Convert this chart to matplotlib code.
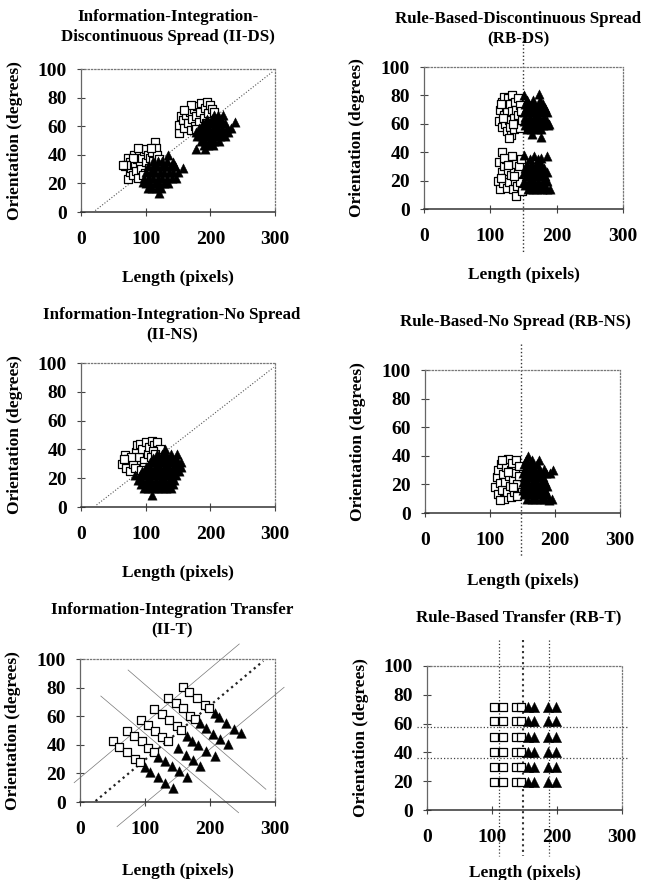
"""Category structures: six scatter panels (II-DS, RB-DS, II-NS, RB-NS, II-T, RB-T)."""
import matplotlib
matplotlib.use("Agg")
import matplotlib.pyplot as plt

plt.rcParams["font.family"] = ["Liberation Serif", "DejaVu Serif"]
plt.rcParams["font.weight"] = "bold"

# ---- II-DS ----
iids_squares = [
    (68, 32), (72, 23), (72, 38), (75, 35), (75, 28), (78, 31), (80, 26), (82, 40), (84, 33),
    (85, 29), (86, 37), (88, 24), (90, 41), (92, 34), (93, 30), (95, 38), (97, 43), (99, 27),
    (100, 44), (101, 35), (103, 40), (105, 31), (107, 38), (110, 42), (112, 36), (115, 49),
    (116, 45), (118, 40), (120, 37), (108, 45), (96, 26), (80, 38), (70, 33), (88, 45), (65, 33),
    (152, 55), (152, 61), (155, 67), (158, 64), (160, 59), (163, 68), (165, 62), (168, 70),
    (170, 57), (172, 65), (175, 72), (176, 60), (178, 67), (180, 74), (182, 63), (184, 70),
    (186, 76), (188, 58), (190, 66), (192, 73), (195, 77), (197, 69), (200, 75), (203, 72),
    (206, 70), (185, 56), (178, 58), (170, 75), (160, 71), (193, 62),
]
iids_triangles = [
    (103, 17), (110, 17), (117, 17), (124, 17),
    (100, 20), (107, 20), (114, 20), (121, 20), (128, 20), (135, 20),
    (98, 24), (105, 24), (112, 24), (119, 24), (126, 24), (133, 24), (140, 24),
    (101, 28), (108, 28), (115, 28), (122, 28), (129, 28), (136, 28), (143, 28), (150, 28),
    (104, 32), (111, 32), (118, 32), (125, 32), (132, 32), (139, 32), (146, 32), (158, 31),
    (112, 36), (119, 36), (126, 36), (133, 36), (135, 40),
    (120, 13), (96, 21), (147, 24), (142, 35),
    (190, 47), (197, 47), (204, 47),
    (185, 50), (192, 50), (199, 50), (206, 50), (213, 50),
    (180, 53), (187, 53), (194, 53), (201, 53), (208, 53), (215, 53), (222, 53),
    (178, 56), (185, 56), (192, 56), (199, 56), (206, 56), (213, 56), (220, 56), (227, 56),
    (183, 59), (190, 59), (197, 59), (204, 59), (211, 59), (218, 59), (225, 59), (232, 59),
    (188, 62), (195, 62), (202, 62), (209, 62), (216, 62), (223, 62),
    (195, 65), (202, 65), (209, 65), (216, 65),
    (205, 68), (212, 68), (220, 68),
    (178, 44), (238, 63), (192, 44),
]
iids_bound_x = [22, 296]
iids_bound_y = [1, 98]

# ---- RB-DS ----
rbds_squares = [
    (113, 62), (115, 70), (117, 58), (118, 75), (120, 66), (120, 79), (122, 60), (123, 72),
    (125, 55), (125, 68), (126, 78), (128, 63), (129, 74), (130, 58), (131, 52), (132, 69),
    (133, 80), (135, 64), (136, 56), (137, 75), (138, 70), (140, 60), (141, 78), (142, 66),
    (144, 73), (145, 57), (146, 69), (147, 63), (116, 74), (128, 50), (119, 64), (134, 60),
    (112, 20), (113, 33), (115, 14), (117, 26), (118, 40), (119, 18), (121, 30), (122, 22),
    (124, 35), (125, 15), (127, 27), (128, 19), (130, 32), (131, 24), (133, 37), (134, 14),
    (135, 28), (137, 20), (138, 9), (139, 32), (140, 16), (142, 25), (143, 30), (145, 19),
    (146, 35), (147, 13), (120, 36), (126, 31), (136, 23), (116, 22),
]
rbds_triangles = [
    (155, 56), (162, 56), (169, 56), (176, 56),
    (152, 59), (159, 59), (166, 59), (173, 59), (180, 59), (187, 59),
    (151, 62), (158, 62), (165, 62), (172, 62), (179, 62), (186, 62),
    (153, 65), (160, 65), (167, 65), (174, 65), (181, 65),
    (151, 68), (158, 68), (165, 68), (172, 68), (179, 68), (186, 68),
    (154, 71), (161, 71), (168, 71), (175, 71), (182, 71),
    (152, 74), (159, 74), (166, 74), (173, 74), (180, 74),
    (155, 77), (164, 77), (175, 77),
    (150, 80), (173, 81), (176, 51), (188, 60), (163, 53),
    (157, 14), (164, 14), (171, 14), (178, 14), (185, 14),
    (153, 17), (160, 17), (167, 17), (174, 17), (181, 17),
    (151, 20), (158, 20), (165, 20), (172, 20), (179, 20), (186, 20),
    (154, 23), (161, 23), (168, 23), (175, 23), (182, 23),
    (151, 26), (158, 26), (165, 26), (172, 26), (179, 26), (186, 26),
    (153, 29), (160, 29), (167, 29), (174, 29), (181, 29),
    (156, 32), (163, 32), (170, 32), (177, 32),
    (160, 35), (172, 35),
    (150, 38), (186, 37), (190, 14), (166, 37), (176, 36),
]
rbds_bound_x = [149, 149]
rbds_bound_y = [124, -31]

# ---- II-NS ----
iins_squares = [
    (63, 30), (68, 36), (70, 27), (73, 33), (75, 25), (80, 30), (85, 38), (87, 43), (90, 35),
    (92, 44), (95, 40), (97, 32), (100, 45), (103, 37), (105, 42), (110, 46), (113, 43),
    (118, 45), (122, 40), (112, 39), (98, 28), (83, 27), (78, 35), (108, 35), (115, 37),
    (93, 26), (66, 33),
]
iins_triangles = [
    (97, 13), (104, 13), (111, 13), (118, 13), (125, 13), (132, 13), (139, 13),
    (93, 16), (100, 16), (107, 16), (114, 16), (121, 16), (128, 16), (135, 16), (142, 16),
    (88, 19), (95, 19), (102, 19), (109, 19), (116, 19), (123, 19), (130, 19), (137, 19), (144, 19),
    (84, 22), (91, 22), (98, 22), (105, 22), (112, 22), (119, 22), (126, 22), (133, 22),
    (140, 22), (147, 22),
    (95, 25), (102, 25), (109, 25), (116, 25), (123, 25), (130, 25), (137, 25), (144, 25), (151, 25),
    (100, 28), (107, 28), (114, 28), (121, 28), (128, 28), (135, 28), (142, 28), (149, 28), (155, 28),
    (106, 31), (113, 31), (120, 31), (127, 31), (134, 31), (141, 31), (148, 31), (154, 31),
    (112, 34), (119, 34), (126, 34), (133, 34), (140, 34), (147, 34),
    (118, 37), (125, 37), (132, 37), (139, 37),
    (130, 40), (110, 8), (148, 37),
]
iins_bound_x = [24, 298]
iins_bound_y = [1.4, 97]

# ---- RB-NS ----
rbns_squares = [
    (108, 18), (110, 25), (112, 30), (113, 13), (115, 21), (117, 34), (118, 16), (120, 27),
    (122, 10), (123, 22), (125, 32), (126, 15), (128, 38), (129, 26), (130, 19), (132, 11),
    (133, 30), (134, 35), (136, 23), (137, 15), (139, 28), (140, 37), (141, 20), (142, 12),
    (144, 26), (145, 33), (119, 37), (116, 9), (127, 29), (135, 18),
]
rbns_triangles = [
    (157, 10), (164, 10), (171, 10), (178, 10), (185, 10), (195, 10),
    (152, 13), (159, 13), (166, 13), (173, 13), (180, 13), (187, 13),
    (150, 16), (157, 16), (164, 16), (171, 16), (178, 16), (185, 16),
    (153, 19), (160, 19), (167, 19), (174, 19), (181, 19), (188, 19),
    (150, 22), (157, 22), (164, 22), (171, 22), (178, 22), (185, 22),
    (153, 25), (160, 25), (167, 25), (174, 25), (181, 25),
    (150, 28), (157, 28), (164, 28), (171, 28), (178, 28), (186, 28), (193, 28),
    (154, 31), (161, 31), (168, 31), (175, 31), (183, 31),
    (152, 34), (159, 34), (166, 34), (172, 34),
    (156, 37), (165, 37), (175, 37),
    (158, 40), (190, 9), (197, 30),
]
rbns_bound_x = [147, 147]
rbns_bound_y = [118, -31]

# ---- II-T ----
iit_squares = [
    (158, 80.6), (167, 76.7), (180, 73), (192, 68), (198, 65.5),
    (136, 73), (148, 69), (158, 65.5), (169, 60), (177, 58),
    (114, 65), (126, 61.5), (137, 57.3), (149, 53), (156, 50.4),
    (94, 57.3), (105, 54), (115, 50), (126, 45.7), (136, 42.6),
    (72, 50), (83, 46), (95, 42.6), (105, 37.5), (114, 35),
    (51, 42.6), (60, 38.7), (73, 34.7), (85, 30), (92, 27.7),
]
iit_triangles = [
    (208, 62), (214, 59.2), (225, 55), (237, 51), (248, 48),
    (184, 55), (194, 51.5), (205, 47.6), (215, 44.1), (227, 40.3),
    (164, 46.2), (173, 42.9), (182, 39.9), (194, 35.9), (207, 32.2),
    (150, 37.5), (163, 32.9), (174, 29.4), (185, 25.4),
    (120.5, 31.7), (131, 28.9), (141, 25.2), (152, 21.7), (164, 17.2),
    (100, 24.7), (108, 21.2), (119.5, 17.7), (131, 13.5), (142.6, 10),
]
# boundary lines: (x0, y0, x1, y1)
iit_thin_lines = [
    (-9, 13.5, 245, 110.5),
    (57, -17.2, 314, 80.2),
    (32, 74.1, 244, -7.5),
    (74, 92.3, 286, 8.9),
]
iit_main_line = (24, 0.7, 282, 98.6)

# ---- RB-T ----
rbt_rows = [71.5, 61.5, 51, 40.5, 30, 19.5]
rbt_square_cols = [103, 117, 137, 145]
rbt_triangle_cols = [156, 165, 186, 199]
rbt_vlines = [110, 148, 187]
rbt_hlines = [57.4, 35.9]

W, H = 654, 880


def px_box(left, top, right, bottom):
    return [left / W, 1 - bottom / H, (right - left) / W, (bottom - top) / H]


def style_axes(ax, xlab_off, ylab_off):
    ax.set_xlim(0, 300)
    ax.set_ylim(0, 100)
    ax.set_xticks([0, 100, 200, 300])
    ax.set_yticks([0, 20, 40, 60, 80, 100])
    ax.tick_params(direction="inout", length=6, width=0.8, color="#444",
                   labelsize=14, pad=7)
    ax.tick_params(axis="x", pad=11)
    for lab in ax.get_xticklabels() + ax.get_yticklabels():
        lab.set_fontweight("bold")
    for side in ("top", "right"):
        ax.spines[side].set_linestyle(":")
        ax.spines[side].set_color("#777")
        ax.spines[side].set_linewidth(0.9)
    ax.spines["left"].set_color("#666")
    ax.spines["left"].set_linewidth(0.9)
    ax.spines["bottom"].set_color("#333")
    ax.spines["bottom"].set_linewidth(1.1)
    ax.set_xlabel("Length (pixels)", fontsize=12.5, fontweight="bold")
    ax.set_ylabel("Orientation (degrees)", fontsize=12.5, fontweight="bold")
    ax.xaxis.set_label_coords(0.5, xlab_off)
    ax.yaxis.set_label_coords(ylab_off, 0.5)


def scatter(ax, squares, triangles, sq_size=28, tri_size=45):
    sx = [p[0] for p in squares]
    sy = [p[1] for p in squares]
    tx = [p[0] for p in triangles]
    ty = [p[1] for p in triangles]
    ax.scatter(sx, sy, marker="s", s=sq_size, facecolor="white", edgecolor="black",
               linewidth=0.9, zorder=3, clip_on=False)
    ax.scatter(tx, ty, marker="^", s=tri_size, facecolor="black", edgecolor="black",
               linewidth=0.3, zorder=4, clip_on=False)


def main():
    fig = plt.figure(figsize=(W / 100, H / 100), dpi=100)
    fig.patch.set_facecolor("white")

    title_kw = dict(fontsize=12.2, fontweight="bold", ha="center", va="center",
                    linespacing=1.4)

    # Panel 1: II-DS
    ax1 = fig.add_axes(px_box(81, 69, 275, 212))
    ax1.plot(iids_bound_x, iids_bound_y, ls=":", lw=0.8, color="#555", zorder=2)
    scatter(ax1, iids_squares, iids_triangles)
    style_axes(ax1, -0.405, -0.30)
    fig.text(168 / W, 1 - 27 / H,
             "Information-Integration-\nDiscontinuous Spread (II-DS)", **title_kw)

    # Panel 2: RB-DS
    ax2 = fig.add_axes(px_box(424, 67, 623, 209))
    ax2.plot(rbds_bound_x, rbds_bound_y, ls=":", lw=1.0, color="#333",
             zorder=2, clip_on=False)
    scatter(ax2, rbds_squares, rbds_triangles)
    style_axes(ax2, -0.41, -0.295)
    fig.text(518 / W, 1 - 29 / H,
             "Rule-Based-Discontinuous Spread\n(RB-DS)", **title_kw)

    # Panel 3: II-NS
    ax3 = fig.add_axes(px_box(81, 363, 275, 507))
    ax3.plot(iins_bound_x, iins_bound_y, ls=":", lw=0.8, color="#555", zorder=2)
    scatter(ax3, iins_squares, iins_triangles)
    style_axes(ax3, -0.405, -0.30)
    fig.text(172 / W, 1 - 325 / H,
             "Information-Integration-No Spread\n(II-NS)", **title_kw)

    # Panel 4: RB-NS
    ax4 = fig.add_axes(px_box(425, 370, 620, 513))
    ax4.plot(rbns_bound_x, rbns_bound_y, ls=":", lw=1.0, color="#333",
             zorder=2, clip_on=False)
    scatter(ax4, rbns_squares, rbns_triangles)
    style_axes(ax4, -0.42, -0.30)
    fig.text(515 / W, 1 - 322 / H, "Rule-Based-No Spread (RB-NS)", **title_kw)

    # Panel 5: II-T
    ax5 = fig.add_axes(px_box(80, 659, 275, 802))
    for x0, y0, x1, y1 in iit_thin_lines:
        ax5.plot([x0, x1], [y0, y1], ls="-", lw=0.5, color="#777",
                 zorder=2, clip_on=False)
    x0, y0, x1, y1 = iit_main_line
    ax5.plot([x0, x1], [y0, y1], ls=":", lw=1.6, color="#222", zorder=2)
    scatter(ax5, iit_squares, iit_triangles, sq_size=32, tri_size=48)
    style_axes(ax5, -0.43, -0.30)
    fig.text(172 / W, 1 - 620 / H,
             "Information-Integration Transfer\n(II-T)", **title_kw)

    # Panel 6: RB-T
    ax6 = fig.add_axes(px_box(427, 666, 622, 810))
    for i, xv in enumerate(rbt_vlines):
        ax6.plot([xv, xv], [118, -32], ls=":", lw=1.5 if i == 1 else 0.9,
                 color="#333", zorder=2, clip_on=False)
    for yv in rbt_hlines:
        ax6.plot([-15, 310], [yv, yv], ls=":", lw=0.9, color="#444",
                 zorder=2, clip_on=False)
    rbt_sq = [(x, y) for y in rbt_rows for x in rbt_square_cols]
    rbt_tr = [(x, y) for y in rbt_rows for x in rbt_triangle_cols]
    scatter(ax6, rbt_sq, rbt_tr, sq_size=36, tri_size=55)
    style_axes(ax6, -0.385, -0.30)
    fig.text(519 / W, 1 - 617 / H, "Rule-Based Transfer (RB-T)", **title_kw)

    fig.savefig("out.png", dpi=100, facecolor="white")


if __name__ == "__main__":
    main()
